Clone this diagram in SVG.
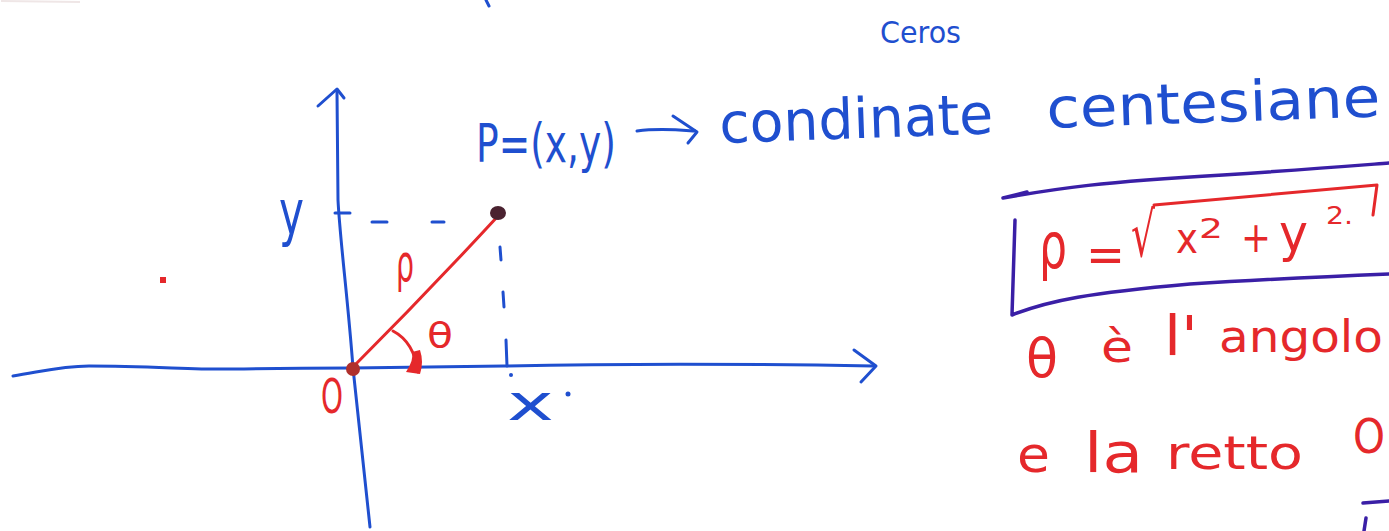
<svg xmlns="http://www.w3.org/2000/svg" width="1389" height="531" viewBox="0 0 1389 531">
<style>
.bl{fill:none;stroke:#1f4fcf;stroke-width:3;stroke-linecap:round;stroke-linejoin:round}
.rd{fill:none;stroke:#e5282b;stroke-width:3;stroke-linecap:round;stroke-linejoin:round}
.pu{fill:none;stroke:#3a1fa6;stroke-width:3.5;stroke-linecap:round;stroke-linejoin:round}
.tb{fill:#1f4fcf;font-family:"DejaVu Sans","Liberation Sans",sans-serif}
.tr{fill:#e5282b;font-family:"DejaVu Sans","Liberation Sans",sans-serif}
</style>
<rect width="1389" height="531" fill="#ffffff"/>
<g id="marks">
<path d="M1,1 L80,2" stroke="#efe6e6" stroke-width="2" fill="none"/>
<path class="bl" d="M486,0 L489,6"/>
<rect x="160" y="277" width="6" height="6" fill="#e5282b"/>
</g>
<g id="axes">
<path class="bl" d="M13,376 C40,372 60,366 89,366 C150,366 200,370 232,369 C290,368 320,368 352,368 C430,367 480,366 504,366 C600,364 700,363 873,366"/>
<path class="bl" d="M854,350 L876,366 L861,382"/>
<path class="bl" d="M370,527 C362,450 356,400 353,368 C348,300 340,240 338,200 L337,92"/>
<path class="bl" d="M318,106 L337,89 L344,98"/>
<path class="bl" d="M335,213 L350,213"/>
<path class="bl" d="M372,222 L387,222 M432,222 L444,222"/>
<path class="bl" d="M500,247 L501,260 M503,292 L504,307 M506,340 L507,366"/>
<circle cx="511" cy="375" r="2" fill="#1f4fcf"/>
</g>
<g id="vector">
<path class="rd" d="M352,368 C390,330 450,268 498,216"/>
<path class="rd" stroke-width="4" d="M393,331 Q414,342 418,372"/>
<path d="M406,372 Q414,360 412,352 L420,350 Q424,362 420,374 Z" fill="#e5282b"/>
<circle cx="353" cy="369" r="7" fill="#b0302c"/>
<ellipse cx="498" cy="213" rx="8" ry="7" fill="#4a2230"/>
</g>
<g id="labels-graph">
<text class="tb" x="279" y="234" font-size="62" textLength="25" lengthAdjust="spacingAndGlyphs">y</text>
<text class="tb" x="507" y="420" font-size="50" textLength="47" lengthAdjust="spacingAndGlyphs">x</text>
<circle cx="568" cy="394" r="2.5" fill="#1f4fcf"/>
<text class="tr" x="321" y="413" font-size="48" textLength="22" lengthAdjust="spacingAndGlyphs">O</text>
<text class="tr" x="396" y="281" font-size="52" textLength="18" lengthAdjust="spacingAndGlyphs">ρ</text>
<text class="tr" x="427" y="348" font-size="36" textLength="26" lengthAdjust="spacingAndGlyphs">θ</text>
</g>
<g id="point-label">
<text class="tb" x="476" y="162" font-size="54" textLength="140" lengthAdjust="spacingAndGlyphs">P=(x,y)</text>
<path class="bl" d="M637,131 C660,128 680,130 695,131"/>
<path class="bl" d="M673,116 L697,132 L688,143"/>
<text class="tb" x="720" y="143" font-size="56" textLength="274" lengthAdjust="spacingAndGlyphs" transform="rotate(-2 720 143)">condinate</text>
<text class="tb" x="1047" y="128" font-size="56" textLength="334" lengthAdjust="spacingAndGlyphs" transform="rotate(-2 1047 128)">centesiane</text>
<text class="tb" x="880" y="43" font-size="30" textLength="81" lengthAdjust="spacingAndGlyphs">Ceros</text>
</g>
<g id="formula-box">
<path class="pu" d="M1027,192 L1003,198 C1060,188 1100,182 1223,175 C1300,170 1350,166 1389,163"/>
<path class="pu" d="M1015,220 L1012,315 C1050,300 1090,293 1190,284 C1270,279 1340,276 1389,274"/>
<text class="tr" x="1039" y="268" font-size="64" textLength="28" lengthAdjust="spacingAndGlyphs">ρ</text>
<text class="tr" x="1086" y="272" font-size="50" textLength="39" lengthAdjust="spacingAndGlyphs">=</text>
<text class="tr" x="1131" y="256" font-size="62" textLength="24" lengthAdjust="spacingAndGlyphs">√</text>
<path class="rd" d="M1154,205 L1377,185 L1373,215"/>
<text class="tr" x="1176" y="253" font-size="42" textLength="22" lengthAdjust="spacingAndGlyphs">x</text>
<text class="tr" x="1199" y="238" font-size="26" textLength="24" lengthAdjust="spacingAndGlyphs">2</text>
<text class="tr" x="1241" y="252" font-size="42" textLength="30" lengthAdjust="spacingAndGlyphs">+</text>
<text class="tr" x="1279" y="251" font-size="52" textLength="29" lengthAdjust="spacingAndGlyphs">y</text>
<text class="tr" x="1326" y="224" font-size="24" textLength="27" lengthAdjust="spacingAndGlyphs">2.</text>
</g>
<g id="notes">
<text class="tr" x="1026" y="377" font-size="54" textLength="32" lengthAdjust="spacingAndGlyphs">θ</text>
<text class="tr" x="1101" y="362" font-size="44" textLength="32" lengthAdjust="spacingAndGlyphs">è</text>
<text class="tr" x="1164" y="355" font-size="56" textLength="34" lengthAdjust="spacingAndGlyphs">l'</text>
<text class="tr" x="1219" y="352" font-size="44" textLength="164" lengthAdjust="spacingAndGlyphs">angolo</text>
<text class="tr" x="1017" y="472" font-size="50" textLength="33" lengthAdjust="spacingAndGlyphs">e</text>
<text class="tr" x="1084" y="472" font-size="56" textLength="59" lengthAdjust="spacingAndGlyphs">la</text>
<text class="tr" x="1166" y="469" font-size="46" textLength="137" lengthAdjust="spacingAndGlyphs">retto</text>
<text class="tr" x="1353" y="453" font-size="48" textLength="32" lengthAdjust="spacingAndGlyphs">O</text>
<path class="pu" d="M1363,503 L1389,501 M1366,518 L1364,531"/>
</g>
</svg>
